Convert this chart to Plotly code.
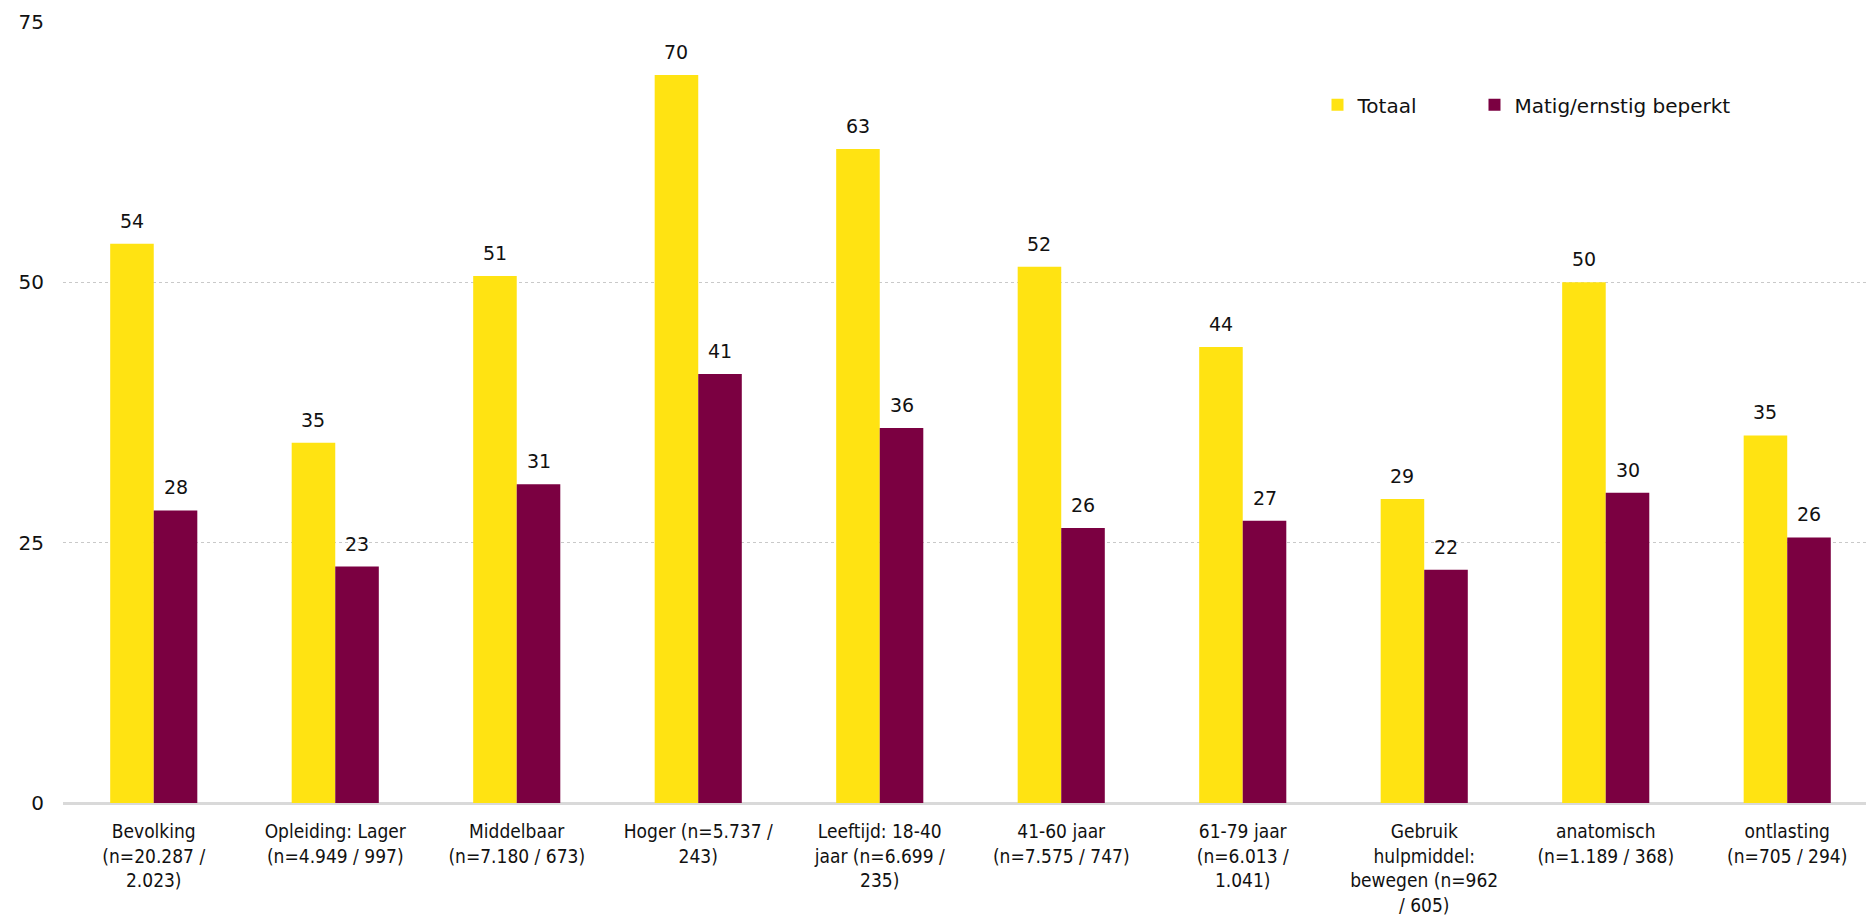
import plotly.graph_objects as go

categories = [
    "Bevolking<br>(n=20.287 /<br>2.023)",
    "Opleiding: Lager<br>(n=4.949 / 997)",
    "Middelbaar<br>(n=7.180 / 673)",
    "Hoger (n=5.737 /<br>243)",
    "Leeftijd: 18-40<br>jaar (n=6.699 /<br>235)",
    "41-60 jaar<br>(n=7.575 / 747)",
    "61-79 jaar<br>(n=6.013 /<br>1.041)",
    "Gebruik<br>hulpmiddel:<br>bewegen (n=962<br>/ 605)",
    "anatomisch<br>(n=1.189 / 368)",
    "ontlasting<br>(n=705 / 294)",
]
totaal = [53.7, 34.6, 50.6, 69.9, 62.8, 51.5, 43.8, 29.2, 50.0, 35.3]
beperkt = [28.1, 22.7, 30.6, 41.2, 36.0, 26.4, 27.1, 22.4, 29.8, 25.5]
series_names = ["Totaal", "Matig/ernstig beperkt"]
series_colors = ["#FFE312", "#7B0041"]

W, H = 1866, 916
ML, MR, MT, MB = 63, 0, 22, 113
x_range = [-0.5, 9.434]
bargap = 0.52
plot_w = W - ML - MR
px_per_cat = plot_w / (x_range[1] - x_range[0])
bar_px = px_per_cat * (1 - bargap) / 2

FONT = "DejaVu Sans, Verdana, sans-serif"

fig = go.Figure()
xs = list(range(len(categories)))
legend_ids = ["legend", "legend2"]
for name, vals, col, lg in zip(series_names, [totaal, beperkt], series_colors, legend_ids):
    fig.add_trace(go.Bar(x=xs, y=vals, name=name, marker=dict(color=col, line=dict(width=0)),
                         hoverinfo="skip", legend=lg))

annotations = []
for k, vals in enumerate([totaal, beperkt]):
    shift = (-0.5 + k) * bar_px
    for i, v in enumerate(vals):
        annotations.append(dict(x=i, y=v, xref="x", yref="y", text=str(int(round(v))),
                                showarrow=False, yanchor="bottom", xanchor="center",
                                xshift=shift, yshift=10,
                                font=dict(family=FONT, size=19, color="#111111")))

leg_common = dict(orientation="h", y=0.894, xanchor="left", yanchor="middle",
                  font=dict(family=FONT, size=20, color="#111111"),
                  bgcolor="rgba(0,0,0,0)", itemclick=False)

leg_x = 0.698 - 4 / plot_w
fig.update_layout(
    width=W, height=H,
    margin=dict(l=ML, r=MR, t=MT, b=MB, pad=0),
    paper_bgcolor="white", plot_bgcolor="white",
    barmode="group", bargap=bargap, bargroupgap=0,
    font=dict(family=FONT, size=19, color="#111111"),
    showlegend=True,
    legend=dict(x=leg_x, **leg_common),
    legend2=dict(x=leg_x + 157 / plot_w, **leg_common),
    annotations=annotations,
)
fig.update_xaxes(range=x_range, tickmode="array", tickvals=xs, ticktext=categories,
                 showgrid=False, zeroline=False, showline=False, ticks="",
                 tickangle=0, ticklabelstandoff=15,
                 tickfont=dict(family="DejaVu Sans Condensed, DejaVu Sans, sans-serif", size=19, color="#111111"))
fig.update_yaxes(range=[0, 75], tickvals=[0, 25, 50, 75], showgrid=True,
                 gridcolor="#c9c9c9", gridwidth=1, griddash="dot",
                 zeroline=True, zerolinecolor="#d9d9d9", zerolinewidth=3,
                 showline=False, ticks="", ticklabelstandoff=18,
                 tickfont=dict(family=FONT, size=20, color="#111111"))

fig.write_html("out.html", config={"displayModeBar": False})
